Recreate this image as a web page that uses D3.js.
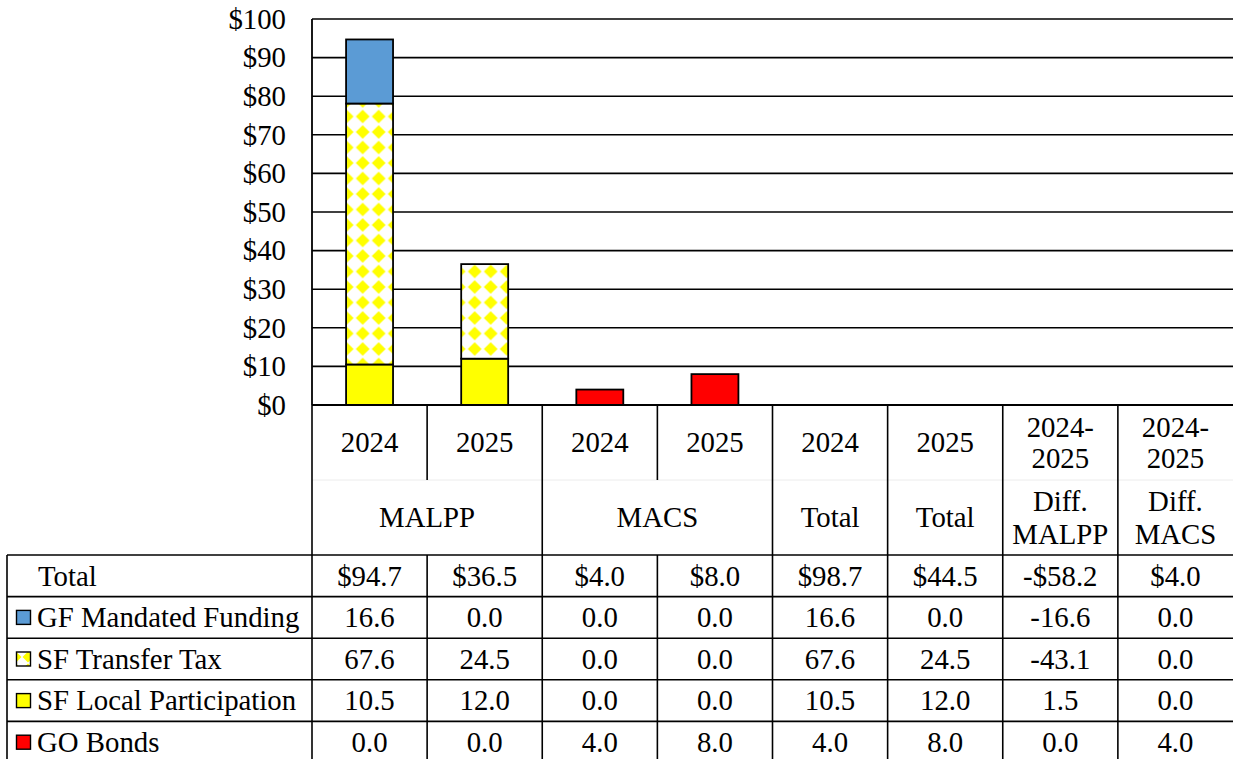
<!DOCTYPE html>
<html><head><meta charset="utf-8">
<script src="https://cdn.jsdelivr.net/npm/d3@7/dist/d3.min.js"></script>
<style>
html,body{margin:0;padding:0;background:#fff;}
svg{display:block;font-family:"Liberation Serif","Times New Roman",serif;}
</style></head>
<body><svg id="c" width="1233" height="759"></svg>
<script>
// ---- data ----
const yearLabels = ["2024", "2025", "2024", "2025", "2024", "2025", "2024-\n2025", "2024-\n2025"];
const groupLabels = ["MALPP", "MALPP", "MACS", "MACS", "Total", "Total", "Diff.\nMALPP", "Diff.\nMACS"];
const plottedGroups = ["MALPP", "MACS"];
const seriesNames = ["GF Mandated Funding", "SF Transfer Tax", "SF Local Participation", "GO Bonds"];
const gfMandated = [16.6, 0.0, 0.0, 0.0, 16.6, 0.0, -16.6, 0.0];
const sfTransferTax = [67.6, 24.5, 0.0, 0.0, 67.6, 24.5, -43.1, 0.0];
const sfLocalParticipation = [10.5, 12.0, 0.0, 0.0, 10.5, 12.0, 1.5, 0.0];
const goBonds = [0.0, 0.0, 4.0, 8.0, 4.0, 8.0, 0.0, 4.0];
const totals = [94.7, 36.5, 4.0, 8.0, 98.7, 44.5, -58.2, 4.0];
const yTicks = [0, 10, 20, 30, 40, 50, 60, 70, 80, 90, 100];

// ---- setup ----
const svg = d3.select("#c");
const FS = 28.8;
const pLeft = 312, pRight = 1233, pTop = 19, pBase = 405;
const tableLeft = 7;
const cols = d3.range(yearLabels.length);
const x = d3.scaleBand().domain(cols).range([pLeft, pRight]).padding(0);
const y = d3.scaleLinear().domain([0, 100]).range([pBase, pTop]);
const bw = x.bandwidth();
const barW = bw * 0.408;

const defs = svg.append("defs");
const pat = defs.append("pattern").attr("id", "diam")
  .attr("patternUnits", "userSpaceOnUse").attr("width", 16).attr("height", 15.5)
  .attr("x", 338.7).attr("y", 0.25);
pat.append("rect").attr("width", 16).attr("height", 15.5).attr("fill", "#fff");
pat.append("path").attr("d", "M8,0.9 L14.9,7.75 L8,14.6 L1.1,7.75 Z").attr("fill", "#ffff00");
const keyPat = defs.append("pattern").attr("id", "diamKey")
  .attr("patternUnits", "userSpaceOnUse").attr("width", 12).attr("height", 12)
  .attr("x", 10).attr("y", 3);
keyPat.append("rect").attr("width", 12).attr("height", 12).attr("fill", "#fff");
keyPat.append("path").attr("d", "M6,0.5 L11.5,6 L6,11.5 L0.5,6 Z").attr("fill", "#ffff00");

const fills = {
  "GF Mandated Funding": "#5b9bd5",
  "SF Transfer Tax": "url(#diam)",
  "SF Local Participation": "#ffff00",
  "GO Bonds": "#ff0000"
};
const keyFills = Object.assign({}, fills, {"SF Transfer Tax": "url(#diamKey)"});
const seriesVals = {
  "GF Mandated Funding": gfMandated,
  "SF Transfer Tax": sfTransferTax,
  "SF Local Participation": sfLocalParticipation,
  "GO Bonds": goBonds
};

// gridlines
svg.append("g").selectAll("line").data(yTicks.filter(d => d > 0)).join("line")
  .attr("x1", pLeft).attr("x2", pRight)
  .attr("y1", d => y(d)).attr("y2", d => y(d))
  .attr("stroke", "#000").attr("stroke-width", 1.6);

// y axis labels
svg.append("g").selectAll("text").data(yTicks).join("text")
  .attr("x", 286).attr("y", d => y(d) + 9.8)
  .attr("text-anchor", "end").attr("font-size", FS).attr("fill", "#000")
  .text(d => "$" + d);

// stacked bars
const stackOrder = ["SF Local Participation", "SF Transfer Tax", "GF Mandated Funding", "GO Bonds"];
const barRows = cols.map(i => {
  const r = {col: i};
  stackOrder.forEach(s => r[s] = seriesVals[s][i]);
  return r;
}).filter(r => plottedGroups.includes(groupLabels[r.col]));
const stacked = d3.stack().keys(stackOrder)(barRows);
const gBars = svg.append("g");
stacked.forEach(layer => {
  gBars.selectAll(null).data(layer.filter(d => d[1] - d[0] > 0)).join("rect")
    .attr("x", d => x(d.data.col) + (bw - barW) / 2)
    .attr("width", barW)
    .attr("y", d => y(d[1]))
    .attr("height", d => y(d[0]) - y(d[1]))
    .attr("fill", fills[layer.key])
    .attr("stroke", "#000").attr("stroke-width", 1.8);
});

// axis (x baseline) and y axis line
svg.append("line").attr("x1", pLeft).attr("x2", pRight).attr("y1", pBase).attr("y2", pBase)
  .attr("stroke", "#000").attr("stroke-width", 2.2);
svg.append("line").attr("x1", pLeft).attr("x2", pLeft).attr("y1", pTop).attr("y2", pBase)
  .attr("stroke", "#000").attr("stroke-width", 1.8);

// ---- header (category axis) ----
const hdrMid = 480, hdrBottom = 555;
const gH = svg.append("g");
gH.append("line").attr("x1", pLeft).attr("x2", pRight).attr("y1", hdrMid).attr("y2", hdrMid)
  .attr("stroke", "#ececec").attr("stroke-width", 1);
cols.forEach(i => {
  const bx = x(i);
  const sameGroup = i > 0 && groupLabels[i] === groupLabels[i - 1] && plottedGroups.includes(groupLabels[i]);
  gH.append("line").attr("x1", bx).attr("x2", bx).attr("y1", pBase)
    .attr("y2", sameGroup ? hdrMid : hdrBottom)
    .attr("stroke", "#000").attr("stroke-width", 1.6);
});
function multiText(g, cx, baseSingle, lines, lh) {
  const n = lines.length;
  const t = g.append("text").attr("x", cx).attr("text-anchor", "middle")
    .attr("font-size", FS).attr("fill", "#000");
  lines.forEach((l, k) => {
    t.append("tspan").attr("x", cx)
      .attr("y", n === 1 ? baseSingle : baseSingle - lh / 2 + k * lh)
      .text(l);
  });
}
cols.forEach(i => {
  multiText(gH, x(i) + bw / 2, 452, yearLabels[i].split("\n"), 31);
});
let i0 = 0;
while (i0 < groupLabels.length) {
  let i1 = i0;
  if (plottedGroups.includes(groupLabels[i0])) {
    while (i1 + 1 < groupLabels.length && groupLabels[i1 + 1] === groupLabels[i0]) i1++;
  }
  const cx = (x(i0) + x(i1) + bw) / 2;
  multiText(gH, cx, 527, groupLabels[i0].split("\n"), 33);
  i0 = i1 + 1;
}

// ---- data table ----
const rowTop = 555, rowH = 41.6;
const tableRows = [{name: "Total", vals: totals, money: true}].concat(
  seriesNames.map(s => ({name: s, vals: seriesVals[s], money: false})));
const gT = svg.append("g");
const fmt1 = v => Math.abs(v).toFixed(1);
const fmtVal = (v, money) => (v < 0 ? "-" : "") + (money ? "$" : "") + fmt1(v);
tableRows.forEach((r, ri) => {
  const yT = rowTop + ri * rowH;
  gT.append("line").attr("x1", tableLeft).attr("x2", pRight).attr("y1", yT).attr("y2", yT)
    .attr("stroke", "#000").attr("stroke-width", 1.6);
  const cy = yT + rowH / 2;
  if (r.money) {
    gT.append("text").attr("x", 38).attr("y", cy + 9.8).attr("font-size", FS).text(r.name);
  } else {
    gT.append("rect").attr("x", 16.5).attr("y", cy - 7).attr("width", 14).attr("height", 14)
      .attr("fill", keyFills[r.name]).attr("stroke", "#000").attr("stroke-width", 1.4);
    gT.append("text").attr("x", 37).attr("y", cy + 9.8).attr("font-size", FS).text(r.name);
  }
  cols.forEach(i => {
    gT.append("text").attr("x", x(i) + bw / 2).attr("y", cy + 9.8)
      .attr("text-anchor", "middle").attr("font-size", FS)
      .text(fmtVal(r.vals[i], r.money));
  });
});
const tableBottom = rowTop + tableRows.length * rowH;
gT.append("line").attr("x1", tableLeft).attr("x2", pRight).attr("y1", tableBottom).attr("y2", tableBottom)
  .attr("stroke", "#000").attr("stroke-width", 1.6);
[tableLeft].concat(cols.map(i => x(i))).forEach(bx => {
  gT.append("line").attr("x1", bx).attr("x2", bx).attr("y1", rowTop).attr("y2", tableBottom)
    .attr("stroke", "#000").attr("stroke-width", 1.6);
});
</script></body></html>
